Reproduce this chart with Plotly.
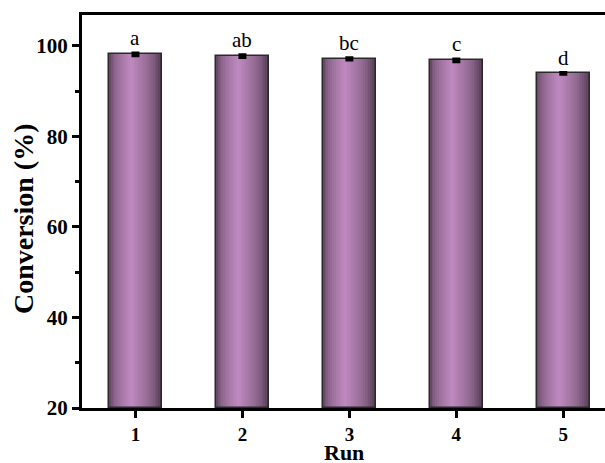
import plotly.graph_objects as go
import numpy as np

runs = [1, 2, 3, 4, 5]
conversion = [98.1, 97.7, 97.1, 96.8, 93.9]
errors = [0.3, 0.3, 0.25, 0.3, 0.2]
letters = ["a", "ab", "bc", "c", "d"]
ytick_vals = [20, 40, 60, 80, 100]

BAR_W = 0.5
N = 28
dark_l = np.array([72, 52, 72])
dark_r = np.array([62, 46, 62])
light = np.array([192, 138, 192])

fig = go.Figure()
for i in range(N):
    t = (i + 0.5) / N
    peak = 0.42
    if t < peak:
        s = (t / peak) ** 0.45
        c = dark_l + (light - dark_l) * s
    else:
        s = ((1 - t) / (1 - peak)) ** 0.55
        c = dark_r + (light - dark_r) * s
    col = "rgb(%d,%d,%d)" % tuple(int(v) for v in c)
    fig.add_trace(go.Bar(
        x=runs, y=[v - 20 for v in conversion], base=20,
        width=BAR_W / N * 1.05, offset=-BAR_W / 2 + i * BAR_W / N,
        marker=dict(color=col, line=dict(width=0)),
        showlegend=False, hoverinfo="skip"))

fig.add_trace(go.Bar(
    x=runs, y=[v - 20 for v in conversion], base=20,
    width=BAR_W, offset=-BAR_W / 2,
    marker=dict(color="rgba(0,0,0,0)", line=dict(color="#2a2a2a", width=1.5)),
    error_y=dict(type="data", array=errors, visible=True, color="black",
                 thickness=3, width=4),
    showlegend=False))

for r, v, e, L in zip(runs, conversion, errors, letters):
    fig.add_annotation(x=r, y=v + e, text=L, showarrow=False, yanchor="bottom",
                       yshift=1, font=dict(family="Liberation Serif", size=21, color="black"))

fig.add_annotation(xref="paper", yref="paper", x=-0.113, y=0.483, xanchor="center", yanchor="middle",
                   text="<b>Conversion (%)</b>", textangle=-90, showarrow=False,
                   font=dict(family="Liberation Serif", size=28, color="black"))
fig.add_annotation(xref="paper", yref="paper", x=0.5, y=-0.112, xanchor="center", yanchor="middle",
                   text="<b>Run</b>", showarrow=False,
                   font=dict(family="Liberation Serif", size=22, color="black"))

fig.update_layout(
    template="none",
    width=605, height=463,
    margin=dict(l=82, r=0, t=15, b=55, autoexpand=False),
    plot_bgcolor="white", paper_bgcolor="white",
    barmode="overlay", bargap=0,
    font=dict(family="Liberation Serif", color="black"),
    xaxis=dict(range=[0.5, 5.39], tickvals=runs, ticktext=[f"<b>{r}</b>" for r in runs],
               ticks="outside", ticklen=7, tickwidth=2.5, tickcolor="black",
               showline=True, linewidth=3, linecolor="black", mirror=True,
               showgrid=False, zeroline=False, automargin=False,
               tickfont=dict(family="Liberation Serif", size=19)),
    yaxis=dict(range=[20, 106.8], tickvals=ytick_vals, ticktext=[f"<b>{v}</b>" for v in ytick_vals],
               ticks="outside", ticklen=7, tickwidth=2.5, tickcolor="black",
               minor=dict(dtick=10, tick0=10, ticks="outside", ticklen=4, tickwidth=2.5, tickcolor="black"),
               showline=True, linewidth=3, linecolor="black", mirror=False,
               showgrid=False, zeroline=False, automargin=False,
               tickfont=dict(family="Liberation Serif", size=21)),
)

fig.write_html("out.html", config={"displayModeBar": False},
               post_script="document.body.style.margin='0';document.body.style.padding='0';")
